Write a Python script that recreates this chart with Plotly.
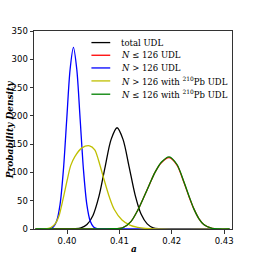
import plotly.graph_objects as go

# ---- data ----
blue_x = [0.3940, 0.3955, 0.39611, 0.39675, 0.39739, 0.39803, 0.39867, 0.39931, 0.39995, 0.40059,
          0.40123, 0.40187, 0.40251, 0.40315, 0.40379, 0.40443, 0.40507, 0.40571, 0.40635, 0.4080, 0.4310]
blue_y = [0, 0, 0.1, 0.7, 3.6, 14, 43, 104, 194, 282,
          321, 282, 194, 104, 43, 14, 3.6, 0.7, 0.1, 0, 0]

yellow_x = [0.3940, 0.3955, 0.3962, 0.3970, 0.3978, 0.3985, 0.3993, 0.4000, 0.4007, 0.4015, 0.4028,
            0.4043, 0.4053, 0.4060, 0.4069, 0.4081, 0.4090, 0.4105, 0.4120, 0.4135, 0.4150, 0.4170, 0.4310]
yellow_y = [0, 0, 0.5, 3, 10, 24, 55, 85, 112, 128, 143,
            147, 140, 122, 93, 56, 35, 16, 7, 3, 1, 0, 0]

black_x = [0.3940, 0.3990, 0.40036, 0.40151, 0.40266, 0.40381, 0.40496, 0.40611, 0.40726, 0.40841,
           0.40956, 0.41071, 0.41186, 0.41301, 0.41416, 0.41531, 0.41646, 0.41761, 0.41876, 0.4200, 0.4310]
black_y = [0, 0, 0.06, 0.4, 2, 8, 24, 58, 109, 158,
           179, 158, 110, 60, 26, 9, 2, 0.4, 0.06, 0, 0]

green_x = [0.3940, 0.4060, 0.4085, 0.4106, 0.4122, 0.4135, 0.4147, 0.4158, 0.4168, 0.4180,
           0.4195, 0.4210, 0.4223, 0.4233, 0.4242, 0.4252, 0.4261, 0.4277, 0.4290, 0.4310]
green_y = [0, 0, 0.5, 2, 13, 33, 57, 80, 100, 118,
           127.6, 114, 84, 58, 36, 18, 8, 1, 0, 0]

red_x = green_x
red_y = [0, 0, 0.5, 2, 13, 33, 57, 80, 100, 117,
         126, 113, 83, 57, 36, 18, 8, 1, 0, 0]

series_names = ["total UDL",
                "<i>N</i> ≤ 126 UDL",
                "<i>N</i> > 126 UDL",
                "<i>N</i> > 126 with <sup>210</sup>Pb UDL",
                "<i>N</i> ≤ 126 with <sup>210</sup>Pb UDL"]
series_x = [black_x, red_x, blue_x, yellow_x, green_x]
series_y = [black_y, red_y, blue_y, yellow_y, green_y]
series_colors = ["#000000", "#ff0000", "#0000ff", "#bfbf00", "#008000"]

x_ticks = [0.40, 0.41, 0.42, 0.43]
x_tick_labels = ["0.40", "0.41", "0.42", "0.43"]
y_ticks = [0, 50, 100, 150, 200, 250, 300, 350]

fig = go.Figure()
for name, xs, ys, col in zip(series_names, series_x, series_y, series_colors):
    fig.add_trace(go.Scatter(x=xs, y=ys, mode="lines", name=name, showlegend=False,
                             line=dict(color=col, width=1.3, shape="spline", smoothing=0.8)))

# legend drawn in paper coordinates (compact spacing like the reference)
shapes = []
annotations = []
leg_rows = [0.9415, 0.8775, 0.8134, 0.7479, 0.6808]
for name, col, yy in zip(series_names, series_colors, leg_rows):
    shapes.append(dict(type="line", xref="paper", yref="paper", x0=0.29, x1=0.385, y0=yy, y1=yy,
                       line=dict(color=col, width=1.3)))
    annotations.append(dict(text=name, xref="paper", yref="paper", x=0.4285, y=yy,
                            xanchor="left", yanchor="middle", showarrow=False,
                            font=dict(family="DejaVu Serif", size=8.5, color="#000000")))

annotations.append(dict(text="<b><i>Probability Density</i></b>", xref="paper", yref="paper",
                        x=-0.12, y=0.5, xanchor="center", yanchor="middle", textangle=-90,
                        showarrow=False, font=dict(family="DejaVu Serif", size=9, color="#000000")))
annotations.append(dict(text="<b><i>a</i></b>", xref="paper", yref="paper",
                        x=0.505, y=-0.1, xanchor="center", yanchor="middle", showarrow=False,
                        font=dict(family="DejaVu Serif", size=9, color="#000000")))

tick_font = dict(family="DejaVu Sans", size=8.5, color="#000000")
fig.update_layout(
    width=258, height=258,
    margin=dict(l=32, r=26, t=31, b=29),
    paper_bgcolor="white", plot_bgcolor="white",
    showlegend=False,
    xaxis=dict(range=[0.3937, 0.4315], tickvals=x_ticks, ticktext=x_tick_labels,
               showgrid=False, zeroline=False, showline=True, linecolor="#333333", linewidth=1,
               mirror=True, ticks="outside", ticklen=3.5, tickwidth=0.8, tickcolor="#333333",
               tickfont=tick_font),
    yaxis=dict(range=[0, 350], tickvals=y_ticks,
               showgrid=False, zeroline=False, showline=True, linecolor="#333333", linewidth=1,
               mirror=True, ticks="outside", ticklen=3.5, tickwidth=0.8, tickcolor="#333333",
               tickfont=tick_font),
    shapes=shapes,
    annotations=annotations,
)

fig.write_html("out.html", config={"displayModeBar": False},
               post_script="document.body.style.margin='0';")
